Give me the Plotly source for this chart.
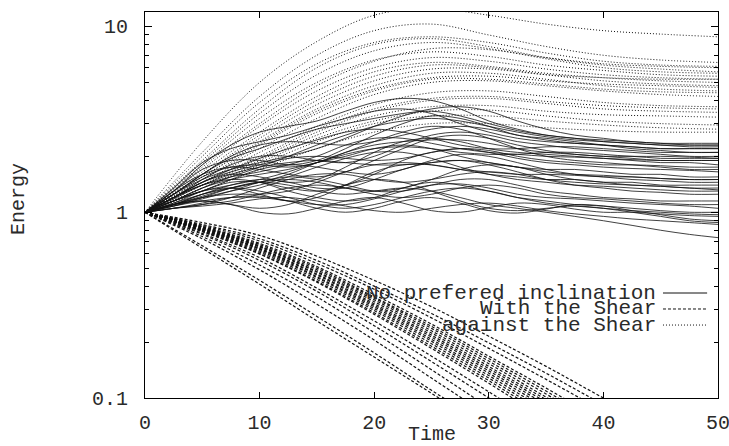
import plotly.graph_objects as go

# ---------------- data ----------------
T_SOLID = [0, 2.5, 5, 7.5, 10, 12.5, 15, 17.5, 20, 22.5, 25, 27.5, 30,
           32.5, 35, 37.5, 40, 42.5, 45, 47.5, 50]
T_DASH = [0, 5, 10, 15, 20, 25, 30, 35, 40, 45, 50]
T_DOT = [0, 5, 10, 15, 20, 25, 30, 35, 40, 45, 50]

# "No prefered inclination" (solid)
SOLID_SERIES = [
    [1, 1.35, 1.85, 2.2, 2.4, 2.6, 2.9, 3.2, 3.5, 3.6, 3.4, 3.0, 2.7, 2.5, 2.4, 2.35, 2.3, 2.25, 2.2, 2.2, 2.2],
    [1, 1.3, 1.7, 1.9, 1.9, 1.8, 1.9, 2.2, 2.6, 3.0, 3.3, 3.2, 2.9, 2.6, 2.5, 2.4, 2.3, 2.2, 2.15, 2.1, 2.1],
    [1, 1.2, 1.45, 1.6, 1.55, 1.45, 1.5, 1.75, 2.1, 2.4, 2.5, 2.4, 2.2, 2.1, 2.05, 2.0, 1.95, 1.9, 1.85, 1.85, 1.8],
    [1, 1.15, 1.3, 1.35, 1.25, 1.15, 1.2, 1.4, 1.65, 1.8, 1.8, 1.7, 1.6, 1.55, 1.5, 1.5, 1.45, 1.45, 1.4, 1.4, 1.4],
    [1, 1.1, 1.15, 1.1, 1.0, 0.98, 1.05, 1.15, 1.2, 1.12, 1.02, 1.0, 1.06, 1.12, 1.1, 1.04, 1.0, 1.0, 0.98, 0.96, 0.95],
    [1, 1.05, 1.12, 1.2, 1.22, 1.15, 1.05, 1.0, 1.05, 1.15, 1.2, 1.12, 1.02, 0.99, 1.04, 1.1, 1.08, 1.02, 0.97, 0.92, 0.9],
    [1, 1.08, 1.2, 1.35, 1.45, 1.4, 1.3, 1.25, 1.3, 1.35, 1.3, 1.2, 1.1, 1.05, 1.0, 0.95, 0.9, 0.85, 0.8, 0.76, 0.73],
    [1, 1.25, 1.55, 1.75, 1.8, 1.75, 1.85, 2.1, 2.4, 2.7, 2.9, 2.8, 2.5, 2.2, 2.0, 1.9, 1.85, 1.8, 1.75, 1.7, 1.7],
    [1, 1.3, 1.8, 2.3, 2.7, 2.9, 3.1, 3.5, 3.9, 4.1, 4.0, 3.6, 3.1, 2.8, 2.6, 2.5, 2.45, 2.4, 2.35, 2.35, 2.35],
    [1, 1.15, 1.35, 1.5, 1.6, 1.7, 1.85, 2.0, 2.2, 2.3, 2.2, 2.0, 1.85, 1.75, 1.7, 1.7, 1.65, 1.6, 1.6, 1.55, 1.55],
    [1, 1.1, 1.25, 1.4, 1.5, 1.45, 1.35, 1.35, 1.5, 1.7, 1.85, 1.9, 1.8, 1.65, 1.5, 1.4, 1.35, 1.3, 1.28, 1.25, 1.25],
    [1, 1.2, 1.5, 1.8, 2.0, 2.0, 1.9, 1.85, 2.0, 2.3, 2.6, 2.7, 2.6, 2.4, 2.3, 2.2, 2.15, 2.1, 2.05, 2.0, 2.0],
    [1, 1.05, 1.1, 1.15, 1.25, 1.35, 1.4, 1.35, 1.25, 1.2, 1.25, 1.35, 1.4, 1.35, 1.25, 1.2, 1.18, 1.15, 1.12, 1.1, 1.1],
    [1, 1.12, 1.3, 1.45, 1.45, 1.35, 1.3, 1.4, 1.6, 1.9, 2.1, 2.2, 2.1, 1.95, 1.85, 1.8, 1.75, 1.72, 1.7, 1.68, 1.65],
    [1, 1.2, 1.4, 1.5, 1.45, 1.3, 1.2, 1.15, 1.2, 1.35, 1.45, 1.4, 1.3, 1.2, 1.15, 1.1, 1.08, 1.05, 1.02, 1.0, 1.0],
    [1, 1.25, 1.6, 2.0, 2.3, 2.4, 2.35, 2.3, 2.4, 2.6, 2.8, 2.9, 2.8, 2.6, 2.45, 2.35, 2.3, 2.25, 2.2, 2.2, 2.2],
    [1, 1.1, 1.2, 1.3, 1.4, 1.55, 1.75, 1.95, 2.1, 2.1, 1.95, 1.75, 1.6, 1.5, 1.45, 1.4, 1.38, 1.35, 1.32, 1.3, 1.3],
    [1, 1.15, 1.35, 1.55, 1.75, 2.0, 2.3, 2.6, 2.9, 3.1, 3.2, 3.1, 2.9, 2.7, 2.55, 2.45, 2.4, 2.35, 2.3, 2.25, 2.25],
    [1, 1.1, 1.15, 1.1, 1.05, 1.1, 1.25, 1.4, 1.5, 1.45, 1.3, 1.15, 1.05, 1.02, 1.05, 1.08, 1.05, 1.0, 0.95, 0.9, 0.88],
    [1, 1.2, 1.45, 1.65, 1.8, 1.95, 2.0, 1.95, 1.9, 1.95, 2.1, 2.2, 2.15, 2.0, 1.9, 1.85, 1.8, 1.8, 1.78, 1.75, 1.75],
    [1, 1.05, 1.1, 1.2, 1.35, 1.5, 1.6, 1.6, 1.5, 1.45, 1.5, 1.6, 1.65, 1.6, 1.5, 1.45, 1.42, 1.4, 1.38, 1.35, 1.35],
    [1, 1.3, 1.6, 1.75, 1.7, 1.6, 1.55, 1.65, 1.9, 2.2, 2.5, 2.6, 2.5, 2.3, 2.15, 2.05, 2.0, 1.95, 1.9, 1.9, 1.9],
    [1, 1.1, 1.25, 1.35, 1.3, 1.2, 1.1, 1.05, 1.1, 1.2, 1.3, 1.35, 1.3, 1.2, 1.12, 1.08, 1.05, 1.02, 1.0, 0.98, 0.97],
    [1, 1.25, 1.6, 1.95, 2.2, 2.5, 2.8, 3.0, 3.2, 3.4, 3.5, 3.3, 3.0, 2.75, 2.6, 2.5, 2.4, 2.35, 2.3, 2.3, 2.3],
    [1, 1.15, 1.3, 1.5, 1.7, 1.8, 1.75, 1.65, 1.6, 1.7, 1.9, 2.05, 2.0, 1.85, 1.7, 1.6, 1.55, 1.5, 1.48, 1.45, 1.45],
    [1, 1.08, 1.18, 1.3, 1.45, 1.55, 1.5, 1.4, 1.3, 1.3, 1.4, 1.5, 1.5, 1.4, 1.3, 1.25, 1.2, 1.18, 1.15, 1.15, 1.15],
    [1, 1.2, 1.4, 1.55, 1.65, 1.8, 2.0, 2.3, 2.5, 2.5, 2.35, 2.2, 2.1, 2.05, 2.0, 1.98, 1.95, 1.92, 1.9, 1.9, 1.9],
    [1, 1.05, 1.08, 1.12, 1.18, 1.2, 1.15, 1.08, 1.02, 1.0, 1.05, 1.1, 1.12, 1.08, 1.02, 0.98, 0.95, 0.92, 0.9, 0.88, 0.86],
    [1, 1.12, 1.25, 1.35, 1.45, 1.6, 1.85, 2.1, 2.3, 2.4, 2.45, 2.45, 2.35, 2.2, 2.1, 2.05, 2.0, 2.0, 1.95, 1.95, 1.95],
    [1, 1.18, 1.4, 1.6, 1.75, 1.85, 1.9, 1.85, 1.8, 1.8, 1.85, 1.9, 1.85, 1.75, 1.65, 1.6, 1.58, 1.55, 1.52, 1.5, 1.5],
    [1, 1.15, 1.3, 1.4, 1.5, 1.65, 1.85, 2.05, 2.2, 2.25, 2.2, 2.1, 2.05, 2.05, 2.1, 2.1, 2.05, 2.0, 2.0, 1.98, 1.95],
    [1, 1.1, 1.2, 1.25, 1.25, 1.3, 1.45, 1.65, 1.8, 1.85, 1.8, 1.7, 1.65, 1.6, 1.6, 1.58, 1.55, 1.55, 1.52, 1.5, 1.5],
    [1, 1.2, 1.45, 1.7, 1.95, 2.2, 2.45, 2.7, 2.8, 2.7, 2.5, 2.3, 2.2, 2.2, 2.25, 2.25, 2.2, 2.15, 2.1, 2.1, 2.1],
    [1, 1.08, 1.15, 1.2, 1.2, 1.15, 1.1, 1.1, 1.18, 1.3, 1.4, 1.42, 1.35, 1.25, 1.2, 1.18, 1.15, 1.12, 1.1, 1.08, 1.05],
    [1, 1.25, 1.5, 1.7, 1.85, 2.0, 2.2, 2.5, 2.9, 3.3, 3.6, 3.7, 3.5, 3.1, 2.8, 2.6, 2.5, 2.4, 2.35, 2.3, 2.3],
    [1, 1.1, 1.22, 1.35, 1.45, 1.5, 1.45, 1.35, 1.3, 1.35, 1.5, 1.7, 1.8, 1.75, 1.6, 1.5, 1.45, 1.4, 1.38, 1.35, 1.32],
]

# "With the Shear" (dashed, decaying)
WITH_SHEAR_SERIES = [
    [1, 0.88, 0.75, 0.58, 0.43, 0.31, 0.215, 0.148, 0.10, 0.068, 0.046],
    [1, 0.86, 0.72, 0.55, 0.40, 0.285, 0.198, 0.136, 0.092, 0.062, 0.042],
    [1, 0.85, 0.70, 0.53, 0.385, 0.27, 0.185, 0.126, 0.085, 0.057, 0.038],
    [1, 0.84, 0.68, 0.51, 0.36, 0.25, 0.168, 0.113, 0.075, 0.05, 0.033],
    [1, 0.835, 0.67, 0.50, 0.35, 0.243, 0.163, 0.109, 0.072, 0.048, 0.032],
    [1, 0.83, 0.66, 0.49, 0.345, 0.237, 0.158, 0.105, 0.069, 0.046, 0.03],
    [1, 0.825, 0.655, 0.48, 0.338, 0.23, 0.153, 0.101, 0.066, 0.044, 0.029],
    [1, 0.82, 0.65, 0.475, 0.33, 0.224, 0.148, 0.098, 0.064, 0.042, 0.028],
    [1, 0.815, 0.64, 0.465, 0.322, 0.218, 0.144, 0.095, 0.062, 0.041, 0.027],
    [1, 0.81, 0.635, 0.46, 0.316, 0.213, 0.14, 0.092, 0.06, 0.039, 0.026],
    [1, 0.805, 0.63, 0.45, 0.31, 0.207, 0.136, 0.089, 0.058, 0.038, 0.025],
    [1, 0.80, 0.62, 0.445, 0.303, 0.202, 0.132, 0.086, 0.056, 0.036, 0.024],
    [1, 0.795, 0.61, 0.435, 0.296, 0.196, 0.128, 0.083, 0.054, 0.035, 0.023],
    [1, 0.79, 0.60, 0.425, 0.288, 0.19, 0.124, 0.08, 0.052, 0.034, 0.022],
    [1, 0.785, 0.595, 0.42, 0.282, 0.185, 0.12, 0.077, 0.05, 0.032, 0.021],
    [1, 0.77, 0.57, 0.39, 0.26, 0.168, 0.108, 0.069, 0.044, 0.028, 0.018],
    [1, 0.76, 0.55, 0.375, 0.245, 0.157, 0.10, 0.063, 0.04, 0.025, 0.016],
    [1, 0.74, 0.52, 0.35, 0.225, 0.142, 0.089, 0.056, 0.035, 0.022, 0.014],
    [1, 0.72, 0.49, 0.32, 0.205, 0.128, 0.08, 0.05, 0.031, 0.019, 0.012],
    [1, 0.66, 0.43, 0.275, 0.175, 0.11, 0.07, 0.044, 0.028, 0.018, 0.011],
    [1, 0.64, 0.41, 0.26, 0.166, 0.106, 0.067, 0.043, 0.027, 0.017, 0.011],
]

# "against the Shear" (dotted, growing)
AGAINST_SHEAR_SERIES = [
    [1, 2.4, 5.0, 8.3, 11.5, 12.5, 11.5, 10.3, 9.5, 9.1, 8.8],
    [1, 2.1, 4.2, 7.0, 9.5, 10.3, 9.0, 7.8, 7.0, 6.6, 6.4],
    [1, 1.9, 3.6, 6.0, 8.0, 8.6, 7.8, 6.8, 6.2, 5.9, 5.7],
    [1, 1.8, 3.2, 5.0, 6.6, 7.3, 6.9, 6.2, 5.8, 5.5, 5.4],
    [1, 1.7, 2.9, 4.5, 6.0, 6.8, 6.5, 5.9, 5.5, 5.3, 5.2],
    [1, 1.6, 2.6, 4.0, 5.4, 6.2, 6.0, 5.5, 5.1, 4.9, 4.8],
    [1, 1.55, 2.4, 3.6, 4.8, 5.6, 5.6, 5.2, 4.8, 4.6, 4.5],
    [1, 1.5, 2.2, 3.2, 4.3, 5.0, 5.1, 4.8, 4.5, 4.3, 4.2],
    [1, 1.45, 2.1, 2.9, 3.8, 4.4, 4.5, 4.2, 3.9, 3.75, 3.7],
    [1, 1.4, 1.95, 2.7, 3.5, 4.0, 4.1, 3.85, 3.6, 3.5, 3.45],
    [1, 1.35, 1.85, 2.5, 3.1, 3.5, 3.55, 3.3, 3.1, 3.0, 2.95],
    [1, 1.3, 1.7, 2.2, 2.7, 3.0, 3.0, 2.85, 2.75, 2.7, 2.7],
    [1, 1.75, 3.0, 4.8, 6.5, 7.6, 7.5, 6.8, 6.3, 6.1, 6.0],
    [1, 2.0, 3.9, 6.3, 8.2, 8.8, 8.2, 7.2, 6.5, 6.2, 6.1],
    [1, 1.65, 2.7, 4.2, 5.7, 6.4, 6.1, 5.6, 5.3, 5.1, 5.0],
    [1, 1.5, 2.3, 3.4, 4.5, 5.2, 5.2, 4.9, 4.6, 4.45, 4.4],
    [1, 1.45, 2.0, 2.8, 3.6, 4.1, 4.2, 3.95, 3.75, 3.65, 3.6],
    [1, 1.35, 1.8, 2.4, 3.0, 3.3, 3.3, 3.1, 2.95, 2.85, 2.8],
    [1, 1.6, 2.5, 3.8, 5.1, 5.9, 5.9, 5.5, 5.3, 5.2, 5.2],
    [1, 1.85, 3.4, 5.5, 7.4, 8.2, 7.6, 6.7, 6.0, 5.7, 5.6],
    [1, 1.55, 2.35, 3.5, 4.6, 5.3, 5.4, 5.1, 4.9, 4.8, 4.7],
    [1, 1.4, 1.9, 2.6, 3.3, 3.7, 3.75, 3.5, 3.35, 3.3, 3.25],
]

X_TICKS = [0, 10, 20, 30, 40, 50]
Y_TICKS = [0.1, 1, 10]
Y_TICK_TEXT = ["0.1", "1", "10"]
Y_MINOR = [0.2, 0.3, 0.4, 0.5, 0.6, 0.7, 0.8, 0.9, 2, 3, 4, 5, 6, 7, 8, 9]
LEGEND_LABELS = ["No prefered inclination", "With the Shear", "against the Shear"]
X_TITLE = "Time"
Y_TITLE = "Energy"

# ---------------- styling ----------------
FONT = "Liberation Mono, Courier New, monospace"
INK = "#111111"
TXT = "#2a2a2a"
DASH_WITH = "3px,2px"
DASH_AGAINST = "1px,2px"

fig = go.Figure()

for ys in WITH_SHEAR_SERIES:
    fig.add_trace(go.Scatter(x=T_DASH, y=ys, mode="lines", showlegend=False,
                             line=dict(color=INK, width=1.2, dash=DASH_WITH, shape="spline"),
                             hoverinfo="skip"))
for ys in AGAINST_SHEAR_SERIES:
    fig.add_trace(go.Scatter(x=T_DOT, y=ys, mode="lines", showlegend=False,
                             line=dict(color=INK, width=1, dash=DASH_AGAINST, shape="spline"),
                             hoverinfo="skip"))
for ys in SOLID_SERIES:
    fig.add_trace(go.Scatter(x=T_SOLID, y=ys, mode="lines", showlegend=False,
                             line=dict(color=INK, width=0.8, shape="spline"),
                             hoverinfo="skip"))

# manual legend (text on the left, line sample on the right, gnuplot style)
legend_y = [0.272, 0.2306, 0.189]
legend_dash = ["solid", DASH_WITH, DASH_AGAINST]
for label, yy, dsh in zip(LEGEND_LABELS, legend_y, legend_dash):
    fig.add_annotation(x=0.895, y=yy, xref="paper", yref="paper", text=label,
                       showarrow=False, xanchor="right", yanchor="middle",
                       font=dict(family=FONT, size=21, color=TXT))
    fig.add_shape(type="line", xref="paper", yref="paper", x0=0.904, x1=0.981,
                  y0=yy, y1=yy, line=dict(color=INK, width=1, dash=dsh))

# axis titles
fig.add_annotation(x=0.5, y=0, xref="paper", yref="paper", text=X_TITLE, showarrow=False,
                   xanchor="center", yanchor="middle", yshift=-36,
                   font=dict(family=FONT, size=20, color=TXT))
fig.add_annotation(x=0, y=0.5, xref="paper", yref="paper", text=Y_TITLE, showarrow=False,
                   xanchor="center", yanchor="middle", xshift=-127, yshift=6, textangle=-90,
                   font=dict(family=FONT, size=20, color=TXT))

axis_common = dict(showline=True, linecolor="black", linewidth=1, mirror="ticks",
                   showgrid=False, zeroline=False, ticks="inside", tickcolor="black",
                   automargin=False, ticklabeloverflow="allow",
                   tickfont=dict(family=FONT, size=20, color=TXT))

fig.update_xaxes(range=[0, 50], tickvals=X_TICKS, ticklen=6, ticklabelstandoff=6,
                 **axis_common)
fig.update_yaxes(type="log", range=[-1, 1.078], tickvals=Y_TICKS, ticktext=Y_TICK_TEXT,
                 ticklen=7, ticklabelstandoff=12,
                 minor=dict(ticks="inside", ticklen=4, tickvals=Y_MINOR, tickcolor="black"),
                 **axis_common)

fig.update_layout(width=729, height=446, margin=dict(l=145, r=11, t=12, b=48),
                  paper_bgcolor="white", plot_bgcolor="white", showlegend=False)

# the page's default 8px body margin would shift the figure; remove it
fig.write_html("out.html", config={"displayModeBar": False},
               post_script="document.body.style.margin='0';document.body.style.overflow='hidden';")
